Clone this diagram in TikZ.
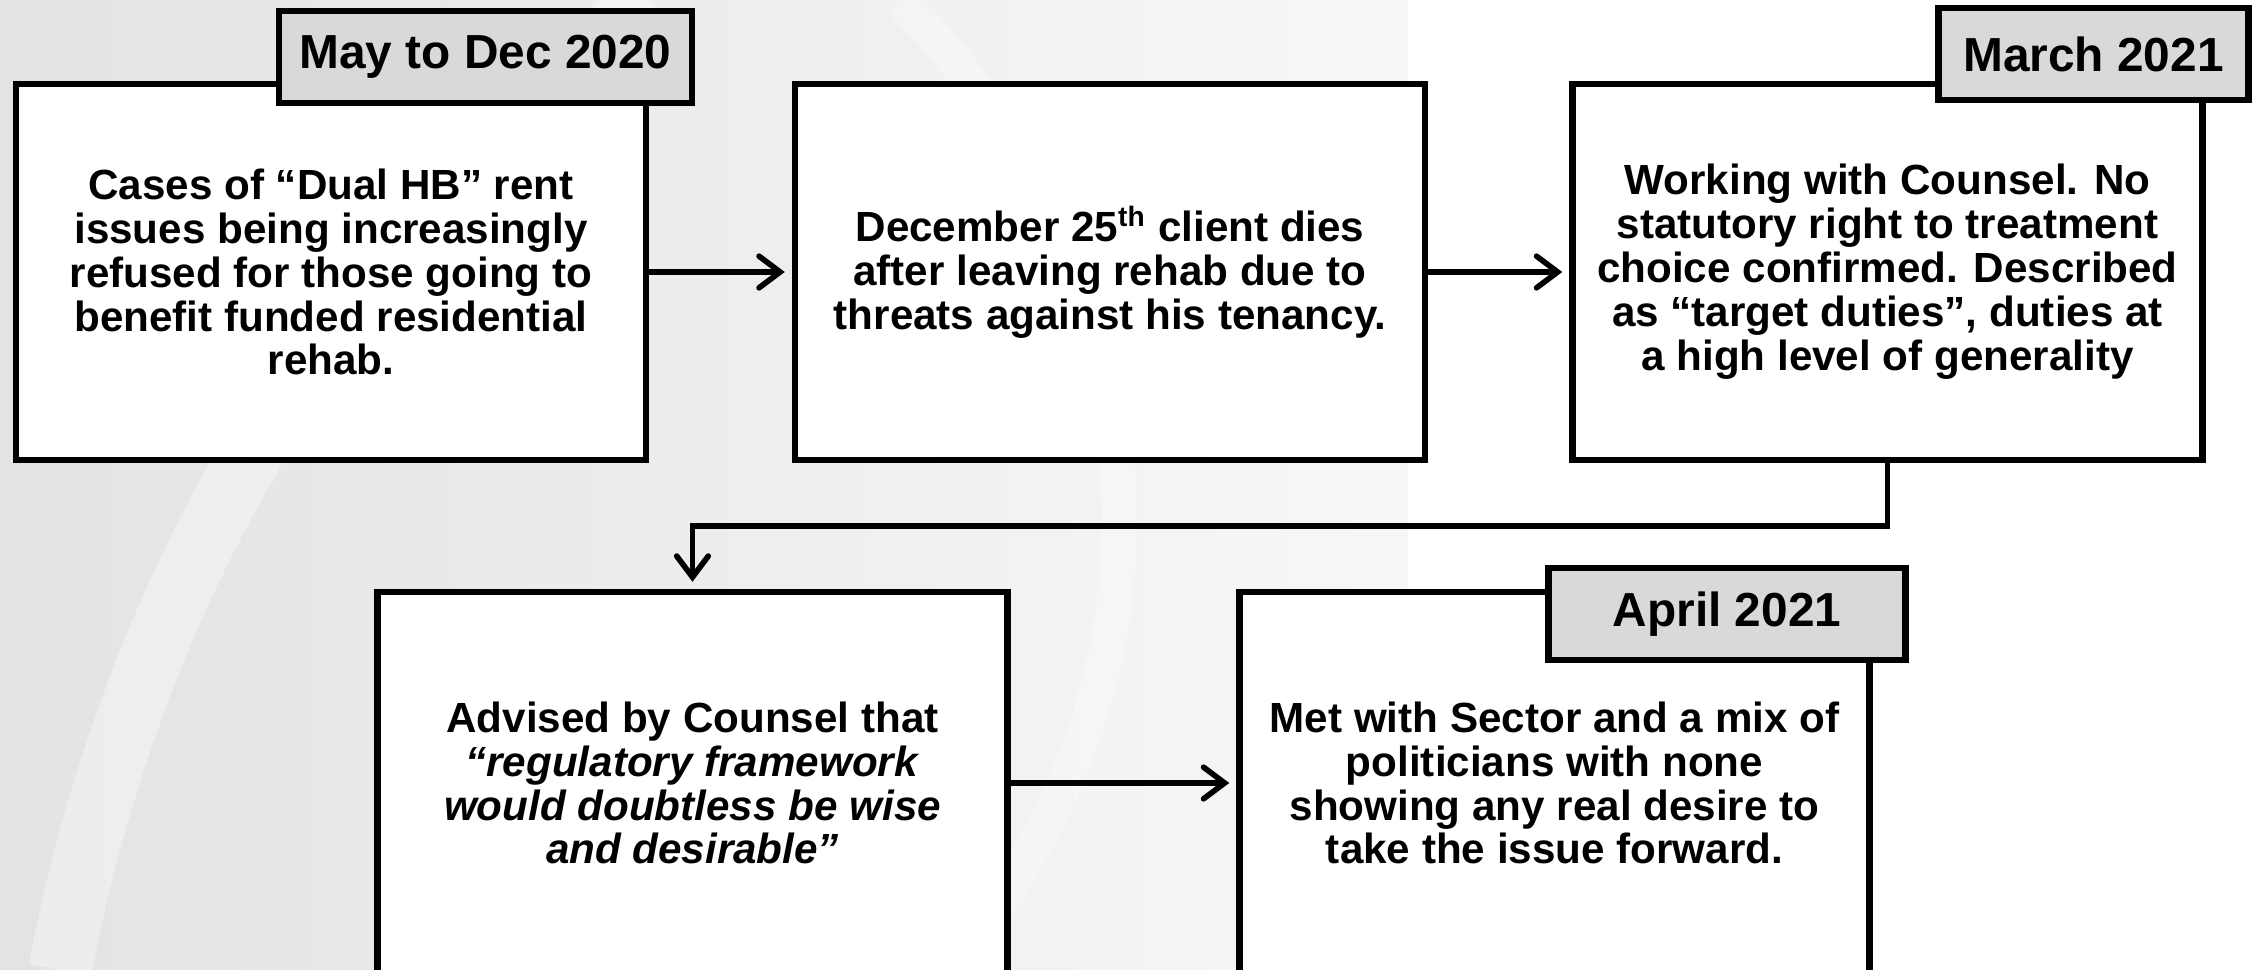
\documentclass[tikz,border=0pt]{standalone}
\usepackage{fontspec}
\setmainfont{Liberation Sans}
\usepackage{tikz}
\usetikzlibrary{positioning,arrows.meta}

\begin{document}
\begin{tikzpicture}[
  >={Straight Barb[length=6pt,width=9pt,line cap=round]},
  event/.style={draw,line width=1.8pt,fill=white,align=center,inner sep=2pt,
    minimum width=6.3cm,minimum height=3.76cm,
    font=\bfseries\fontsize{12}{12.5}\selectfont},
  when/.style={draw,line width=1.8pt,fill=black!15,anchor=north east,
    minimum height=0.92cm,font=\bfseries\fontsize{13.6}{15}\selectfont},
  link/.style={line width=1.6pt,->,shorten >=2pt}
]
\useasboundingbox (0,0) rectangle (22.62,-9.70);
% faint backdrop
\shade[left color=black!11,right color=black!3] (0,0) rectangle (14.08,-9.70);
\draw[white,line width=18pt,opacity=0.35] (0.6,-9.7) .. controls (1.5,-5) and (4,-2) .. (6.5,0);
\draw[white,line width=10pt,opacity=0.3] (9.5,-9.7) .. controls (12.5,-6) and (11,-2) .. (9,0);

% top row
\node[event] (may) at (3.31,-2.72)
  {Cases of “Dual HB” rent\\issues being increasingly\\refused for those going to\\benefit funded residential\\rehab.};
\node[event] (dec) at (11.10,-2.72)
  {December 25\textsuperscript{th} client dies\\after leaving rehab due to\\threats against his tenancy.};
\node[event] (mar) at (18.875,-2.72)
  {Working with Counsel. No\\statutory right to treatment\\choice confirmed. Described\\as “target duties”, duties at\\a high level of generality};

% bottom row
\node[event,minimum height=3.82cm] (adv) at (6.925,-7.83)
  {Advised by Counsel that\\\textit{“regulatory framework}\\\textit{would doubtless be wise}\\\textit{and desirable”}};
\node[event,minimum height=3.82cm] (apr) at (15.545,-7.83)
  {Met with Sector and a mix of\\politicians with none\\showing any real desire to\\take the issue forward.};

% dates
\node[when,minimum width=4.13cm] (maylbl) at ([shift={(0.46,0.73)}]may.north east) {May to Dec 2020};
\node[when,minimum width=3.10cm] (marlbl) at ([shift={(0.46,0.76)}]mar.north east) {March 2021};
\node[when,minimum width=3.57cm] (aprlbl) at ([shift={(0.36,0.24)}]apr.north east) {April 2021};

% connectors
\draw[link] (may) -- (dec);
\draw[link] (dec) -- (mar);
\draw[link] (mar.south) -- ++(0,-0.63) -| (adv.north);
\draw[link] (adv) -- (apr);
\end{tikzpicture}
\end{document}
